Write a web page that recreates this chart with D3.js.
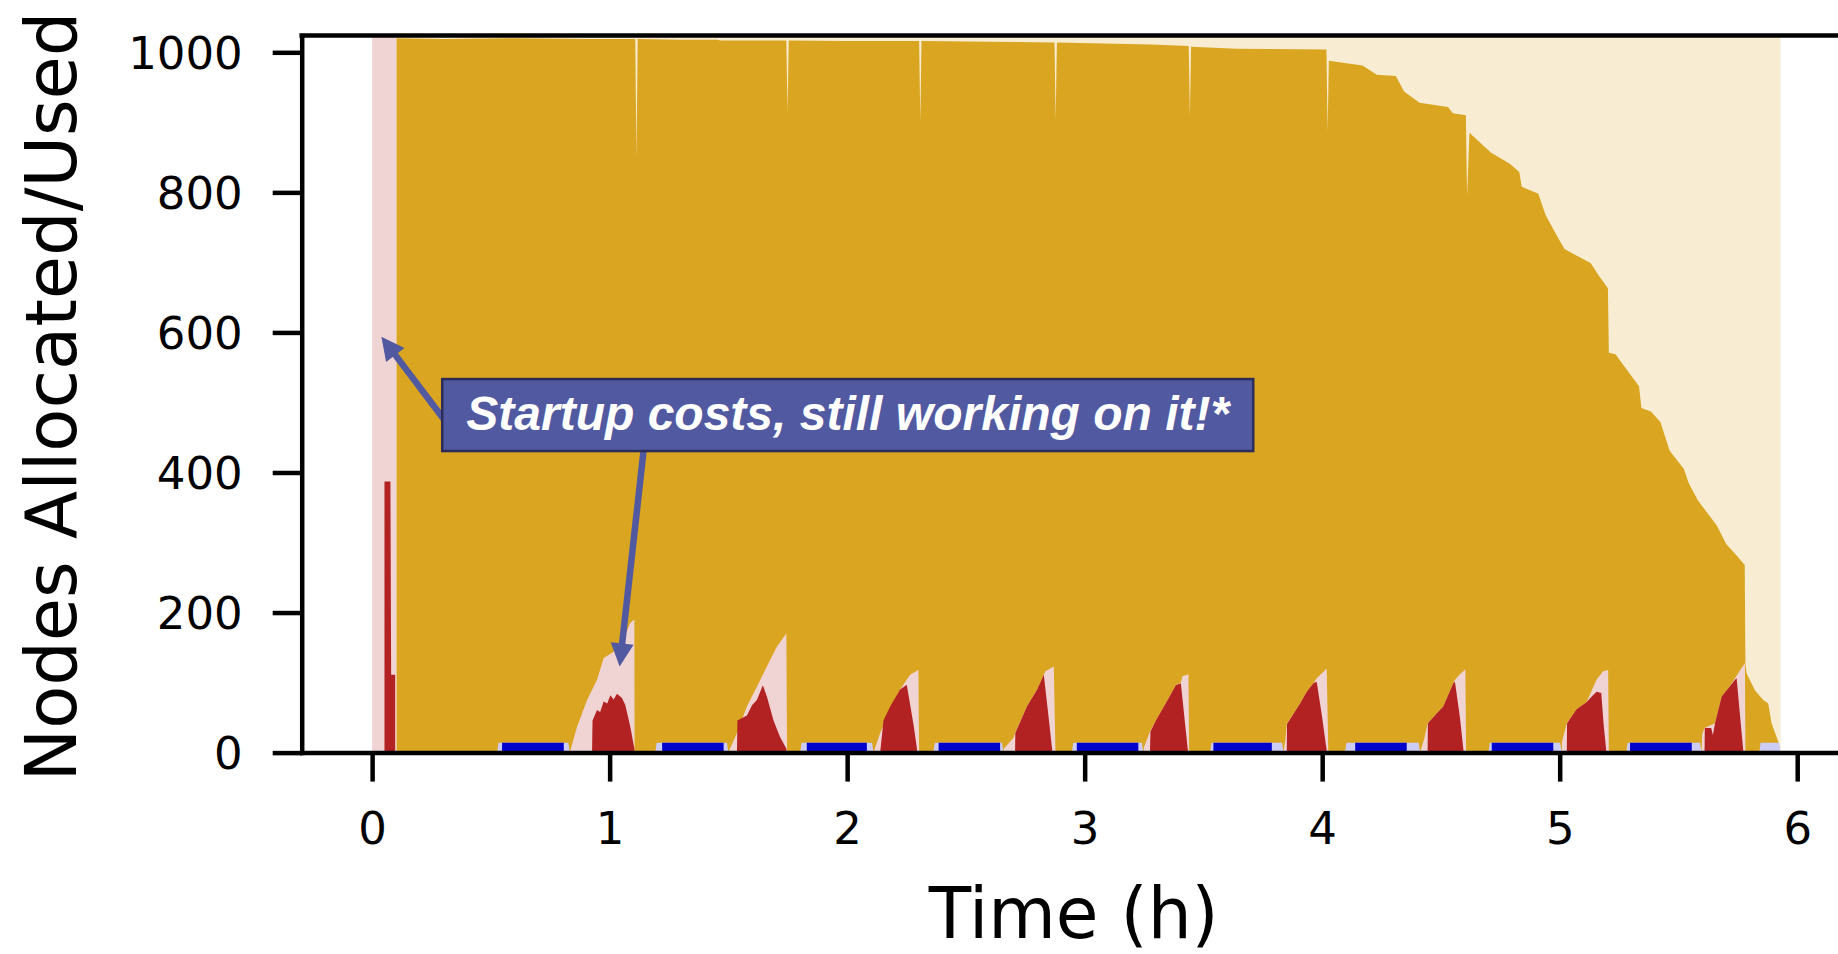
<!DOCTYPE html>
<html><head><meta charset="utf-8">
<script src="https://cdn.jsdelivr.net/npm/d3@7"></script>
<style>html,body{margin:0;padding:0;background:#fff;overflow:hidden}</style>
</head><body>
<svg id="chart" width="1838" height="954"></svg>
<script>
// ---------- data ----------
const xTicks = [0, 1, 2, 3, 4, 5, 6];
const yTicks = [0, 200, 400, 600, 800, 1000];
const xLabel = "Time (h)";
const yLabel = "Nodes Allocated/Used";
const noteText = "Startup costs, still working on it!*";
const totalNodes = 1024;

// nodes allocated to the running phase (light goldenrod)  [time h, nodes]
const runAllocated = [[0.102, 1024], [5.93, 1024]];

// nodes used by the running phase (goldenrod)
const runUsed = [
  [0.102, 1020], [0.3, 1019], [0.6, 1020], [0.9, 1019], [1.108, 1019], [1.113, 847], [1.118, 1019],
  [1.3, 1018], [1.45, 1018], [1.47, 1017], [1.744, 1017], [1.749, 913], [1.754, 1017],
  [2.0, 1016], [2.303, 1016], [2.308, 901], [2.313, 1016], [2.6, 1015], [2.873, 1014],
  [2.878, 903], [2.883, 1014], [3.03, 1013], [3.28, 1011], [3.438, 1009],
  [3.443, 908], [3.448, 1008], [3.64, 1005], [4.018, 1004], [4.023, 887],
  [4.028, 988], [4.17, 981], [4.23, 968], [4.31, 966], [4.345, 944],
  [4.41, 928], [4.53, 922], [4.55, 913], [4.605, 910], [4.61, 794],
  [4.62, 885], [4.71, 857], [4.79, 841], [4.83, 829], [4.84, 808],
  [4.91, 798], [4.94, 768], [4.99, 737], [5.02, 719], [5.13, 699],
  [5.165, 681], [5.203, 663], [5.207, 571], [5.235, 569], [5.295, 541],
  [5.334, 523], [5.344, 492], [5.384, 487], [5.424, 472], [5.463, 431],
  [5.523, 405], [5.543, 385], [5.582, 360], [5.622, 342], [5.662, 324],
  [5.701, 298], [5.741, 283], [5.779, 268], [5.782, 127], [5.787, 113],
  [5.822, 89], [5.857, 75], [5.878, 70], [5.892, 42], [5.92, 16], [5.93, 0]
];

// nodes allocated to startup (light firebrick), one list per startup phase
const startupAllocated = [
  [[0, 1024], [0.102, 1024]],
  [[0.832, 0], [0.863, 37], [0.905, 75], [0.947, 104], [0.975, 135], [1.017, 144], [1.059, 163], [1.087, 185], [1.104, 190], [1.105, 0]],
  [[1.50, 0], [1.536, 28], [1.578, 66], [1.62, 94], [1.662, 123], [1.704, 151], [1.744, 170], [1.747, 0]],
  [[2.111, 0], [2.139, 28], [2.181, 61], [2.223, 90], [2.265, 111], [2.30, 118], [2.303, 0]],
  [[2.658, 0], [2.66, 6], [2.70, 21], [2.707, 28], [2.757, 66], [2.80, 90], [2.828, 111], [2.835, 116], [2.87, 123], [2.877, 0]],
  [[3.247, 0], [3.25, 8], [3.275, 30], [3.30, 46], [3.341, 70], [3.384, 96], [3.405, 100], [3.412, 109], [3.437, 112], [3.44, 0]],
  [[3.837, 0], [3.845, 18], [3.851, 41], [3.907, 70], [3.935, 87], [3.963, 99], [3.977, 106], [4.019, 120], [4.026, 0]],
  [[4.412, 0], [4.43, 20], [4.444, 42], [4.482, 56], [4.51, 66], [4.552, 99], [4.559, 104], [4.58, 112], [4.603, 119], [4.606, 0]],
  [[5.008, 0], [5.01, 16], [5.03, 42], [5.071, 62], [5.113, 72], [5.155, 104], [5.183, 116], [5.204, 118], [5.207, 0]],
  [[5.597, 0], [5.60, 27], [5.61, 35], [5.654, 42], [5.682, 80], [5.71, 92], [5.738, 106], [5.76, 118], [5.78, 128], [5.782, 0]]
];

// nodes used by startup (firebrick)
const startupUsed = [
  [[0.052, 0], [0.052, 387], [0.077, 387], [0.08, 111], [0.097, 111], [0.097, 0]],
  [[0.926, 0], [0.928, 46], [0.947, 61], [0.96, 58], [0.975, 73], [0.99, 70], [1.003, 82], [1.017, 76], [1.031, 84], [1.052, 78], [1.066, 68], [1.087, 37], [1.104, 6], [1.105, 0]],
  [[1.536, 0], [1.538, 46], [1.578, 53], [1.60, 68], [1.62, 75], [1.645, 96], [1.662, 80], [1.69, 46], [1.718, 22], [1.744, 6], [1.746, 0]],
  [[2.139, 0], [2.153, 46], [2.181, 66], [2.223, 90], [2.251, 97], [2.279, 41], [2.293, 8], [2.295, 0]],
  [[2.707, 0], [2.708, 28], [2.757, 66], [2.80, 90], [2.828, 111], [2.845, 60], [2.862, 8], [2.865, 0]],
  [[3.275, 0], [3.277, 30], [3.30, 46], [3.341, 70], [3.384, 96], [3.405, 99], [3.42, 50], [3.434, 5], [3.436, 0]],
  [[3.851, 0], [3.852, 41], [3.907, 70], [3.935, 87], [3.963, 99], [3.977, 101], [4.0, 50], [4.019, 3], [4.02, 0]],
  [[4.444, 0], [4.445, 42], [4.482, 56], [4.51, 66], [4.552, 99], [4.559, 101], [4.58, 50], [4.595, 3], [4.597, 0]],
  [[5.03, 0], [5.031, 42], [5.071, 62], [5.113, 72], [5.135, 80], [5.155, 87], [5.175, 85], [5.185, 40], [5.196, 3], [5.198, 0]],
  [[5.61, 0], [5.611, 35], [5.638, 35], [5.645, 25], [5.654, 42], [5.682, 80], [5.71, 92], [5.738, 104], [5.745, 106], [5.76, 50], [5.773, 3], [5.775, 0]]
];

// idle phases: [alloc start, used start, used end, alloc end, nodes]
const idlePhases = [
  [0.526, 0.547, 0.807, 0.832, 14],
  [1.192, 1.221, 1.480, 1.500, 14],
  [1.802, 1.830, 2.083, 2.111, 14],
  [2.363, 2.385, 2.644, 2.658, 14],
  [2.946, 2.967, 3.226, 3.247, 14],
  [3.528, 3.542, 3.788, 3.837, 14],
  [4.096, 4.139, 4.356, 4.412, 14],
  [4.700, 4.714, 4.973, 5.008, 14],
  [5.280, 5.296, 5.556, 5.597, 14],
  [5.840, null, null, 5.930, 14]
];

// annotation anchor points (data coords)
const noteCenter = [2.0025, 482];
const arrowTails = [[0.349, 455], [1.152, 459]];
const arrowTips = [[0.039, 594], [1.042, 123]];

// ---------- drawing ----------
const svg = d3.select("#chart");
const x = d3.scaleLinear().domain([-0.2965, 6.2265]).range([301.7, 1851]);
const y = d3.scaleLinear().domain([0, totalNodes]).range([752.6, 35.5]);

const C = {
  gold: "#daa520", goldLight: "#f8edd2",
  red: "#b22222", redLight: "#f0d3d3",
  blue: "#0000cd", blueLight: "#ccccf5",
  note: "#5159a1", noteEdge: "#2b2d58"
};

const area = d3.area().x(d => x(d[0])).y0(y(0)).y1(d => y(d[1]));
const g = svg.append("g");

g.append("path").datum(runAllocated).attr("d", area).attr("fill", C.goldLight);
g.append("path").datum(runUsed).attr("d", area).attr("fill", C.gold);
startupAllocated.forEach(s => g.append("path").datum(s).attr("d", area).attr("fill", C.redLight));
startupUsed.forEach(s => g.append("path").datum(s).attr("d", area).attr("fill", C.red));
idlePhases.forEach(p => {
  const [a0, u0, u1, a1, n] = p;
  const allocPts = [[a0, 0], [a0 + 0.006, n], [a1 - 0.006, n], [a1, 0]];
  g.append("path").datum(allocPts).attr("d", area).attr("fill", C.blueLight);
  if (u0 !== null) {
    g.append("path").datum([[u0, n], [u1, n]]).attr("d", area).attr("fill", C.blue);
  }
});

// axes
const axisStyle = sel => {
  sel.select(".domain").attr("stroke", "#000").attr("stroke-width", 4.5).attr("stroke-linecap", "square");
  sel.selectAll(".tick line").attr("stroke", "#000").attr("stroke-width", 4.5);
  sel.selectAll(".tick text").attr("fill", "#000")
    .style("font-family", "'DejaVu Sans', sans-serif").style("font-size", "45px");
};
const yAxis = svg.append("g").attr("transform", `translate(${x.range()[0]},0)`)
  .call(d3.axisLeft(y).tickValues(yTicks).tickSize(29).tickSizeOuter(0).tickPadding(30).tickFormat(d3.format("d")));
axisStyle(yAxis);
yAxis.selectAll(".tick text").attr("dy", "0.36em");

const xAxis = svg.append("g").attr("transform", `translate(0,${y(0)})`)
  .call(d3.axisBottom(x).tickValues(xTicks).tickSize(29).tickSizeOuter(0).tickPadding(30).tickFormat(d3.format("d")));
axisStyle(xAxis);

// top & right spines
svg.append("line").attr("x1", x.range()[0]).attr("x2", x.range()[1])
  .attr("y1", y(totalNodes)).attr("y2", y(totalNodes))
  .attr("stroke", "#000").attr("stroke-width", 4.5).attr("stroke-linecap", "square");
svg.append("line").attr("x1", x.range()[1]).attr("x2", x.range()[1])
  .attr("y1", y(0)).attr("y2", y(totalNodes))
  .attr("stroke", "#000").attr("stroke-width", 4.5);

// axis labels
svg.append("text").text(xLabel)
  .attr("x", 1073.7).attr("y", 938).attr("text-anchor", "middle")
  .attr("textLength", 290).attr("lengthAdjust", "spacingAndGlyphs")
  .style("font-family", "'DejaVu Sans', sans-serif").style("font-size", "71px").attr("fill", "#000");
svg.append("text").text(yLabel)
  .attr("transform", "translate(76,396.5) rotate(-90)").attr("text-anchor", "middle")
  .attr("textLength", 770).attr("lengthAdjust", "spacingAndGlyphs")
  .style("font-family", "'DejaVu Sans', sans-serif").style("font-size", "71px").attr("fill", "#000");

// arrows
arrowTails.forEach((t0, i) => {
  const p0 = [x(t0[0]), y(t0[1])];
  const p1 = [x(arrowTips[i][0]), y(arrowTips[i][1])];
  const dx = p1[0] - p0[0], dy = p1[1] - p0[1];
  const L = Math.hypot(dx, dy);
  const u = [dx / L, dy / L], nrm = [-u[1], u[0]];
  const hl = 23, hw = 11.5;
  const b = [p1[0] - u[0] * hl, p1[1] - u[1] * hl];
  svg.append("line").attr("x1", p0[0]).attr("y1", p0[1]).attr("x2", b[0] + u[0] * 2).attr("y2", b[1] + u[1] * 2)
    .attr("stroke", C.note).attr("stroke-width", 6.5);
  svg.append("path")
    .attr("d", `M${p1[0]},${p1[1]}L${b[0] + nrm[0] * hw},${b[1] + nrm[1] * hw}L${b[0] - nrm[0] * hw},${b[1] - nrm[1] * hw}Z`)
    .attr("fill", C.note);
});

// note box
const bw = 811, bh = 72;
const cx = x(noteCenter[0]), cy = y(noteCenter[1]);
svg.append("rect").attr("x", cx - bw / 2).attr("y", cy - bh / 2).attr("width", bw).attr("height", bh)
  .attr("fill", C.note).attr("stroke", C.noteEdge).attr("stroke-width", 2.5);
svg.append("text").text(noteText)
  .attr("x", cx).attr("y", cy + 14.5).attr("text-anchor", "middle")
  .attr("textLength", 763).attr("lengthAdjust", "spacingAndGlyphs")
  .style("font-family", "'Liberation Sans', Arial, sans-serif").style("font-weight", "bold")
  .style("font-style", "italic").style("font-size", "48px").attr("fill", "#fff");
</script>
</body></html>
